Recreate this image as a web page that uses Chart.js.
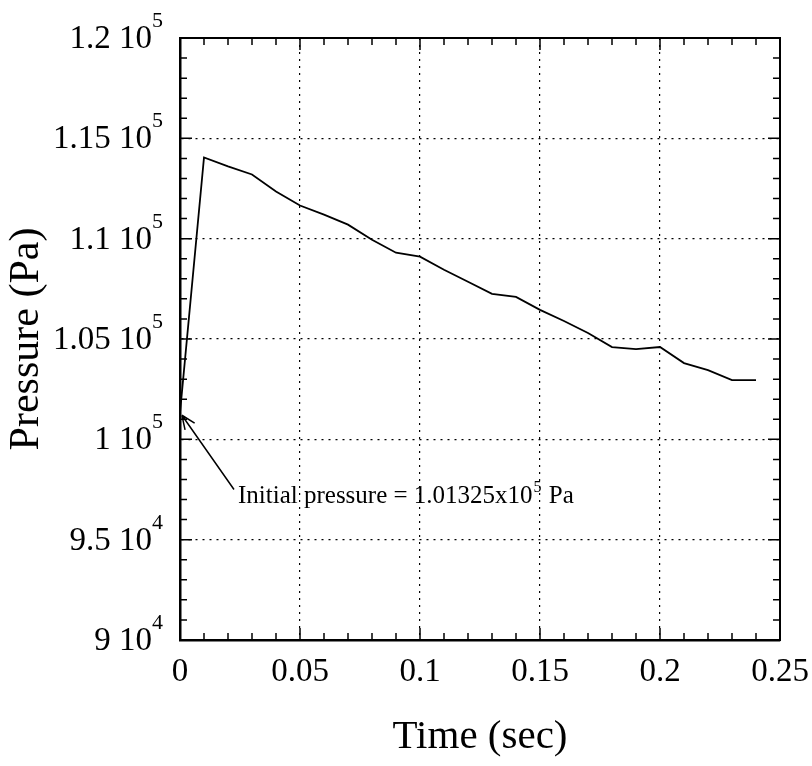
<!DOCTYPE html>
<html>
<head>
<meta charset="utf-8">
<script src="https://cdn.jsdelivr.net/npm/chart.js@4/dist/chart.umd.min.js"></script>
<style>
  html, body { margin: 0; padding: 0; background: #fff; }
  #wrap { width: 812px; height: 766px; }
</style>
</head>
<body>
<div id="wrap"><canvas id="myChart" width="812" height="766"></canvas></div>
<script>
// Time (sec) and pressure (Pa)
const times = [0, 0.01, 0.02, 0.03, 0.04, 0.05, 0.06, 0.07, 0.08, 0.09, 0.10, 0.11, 0.12,
               0.13, 0.14, 0.15, 0.16, 0.17, 0.18, 0.19, 0.20, 0.21, 0.22, 0.23, 0.24];
const pressures = [101325, 114050, 113600, 113200, 112350, 111650, 111200, 110700, 109950,
                   109300, 109100, 108450, 107850, 107250, 107100, 106450, 105900, 105300,
                   104600, 104500, 104600, 103800, 103450, 102950, 102950];

// axis tick values and labels
const xTicks = [0, 0.05, 0.1, 0.15, 0.2, 0.25];
const xTickLabels = ['0', '0.05', '0.1', '0.15', '0.2', '0.25'];
const yTicks = [90000, 95000, 100000, 105000, 110000, 115000, 120000];
const yTickBase = ['9 10', '9.5 10', '1 10', '1.05 10', '1.1 10', '1.15 10', '1.2 10'];
const yTickExp = ['4', '4', '5', '5', '5', '5', '5'];

const serif = "'Liberation Serif', 'DejaVu Serif', serif";

// y tick labels written as mantissa + power of ten with a raised exponent
const yLabels = {
    id: 'yLabels',
    afterDraw(chart) {
        const { ctx, scales: { y } } = chart;
        ctx.save();
        ctx.fillStyle = '#000';
        ctx.textAlign = 'right';
        ctx.textBaseline = 'alphabetic';
        yTicks.forEach((v, i) => {
            const py = y.getPixelForValue(v);
            const right = 163;
            ctx.font = '22px ' + serif;
            const ew = ctx.measureText(yTickExp[i]).width;
            ctx.fillText(yTickExp[i], right, py - 11);
            ctx.font = '33px ' + serif;
            ctx.fillText(yTickBase[i], right - ew, py + 10);
        });
        ctx.restore();
    }
};

// inward tick marks on all four sides (minor + major), from the scales
const tickMarks = {
    id: 'tickMarks',
    afterDatasetsDraw(chart) {
        const { ctx, chartArea: a, scales: { x, y } } = chart;
        ctx.save();
        ctx.strokeStyle = '#000';
        ctx.lineWidth = 1.5;
        ctx.beginPath();
        for (let i = 0; i <= 25; i++) {
            const px = x.getPixelForValue(i / 100);
            const len = i % 5 === 0 ? 12 : 7;
            ctx.moveTo(px, a.bottom); ctx.lineTo(px, a.bottom - len);
            ctx.moveTo(px, a.top); ctx.lineTo(px, a.top + len);
        }
        for (let i = 0; i <= 30; i++) {
            const py = y.getPixelForValue(90000 + i * 1000);
            const len = i % 5 === 0 ? 12 : 7;
            ctx.moveTo(a.left, py); ctx.lineTo(a.left + len, py);
            ctx.moveTo(a.right, py); ctx.lineTo(a.right - len, py);
        }
        ctx.stroke();
        ctx.restore();
    }
};

// the "Initial pressure" note with its arrow
const initialNote = {
    id: 'initialNote',
    afterDatasetsDraw(chart) {
        const { ctx, scales: { x, y } } = chart;
        const tipX = x.getPixelForValue(0.0008), tipY = y.getPixelForValue(101200);
        const tailX = x.getPixelForValue(0.0225), tailY = y.getPixelForValue(97500);
        ctx.save();
        ctx.strokeStyle = '#000';
        ctx.lineWidth = 1.5;
        ctx.beginPath();
        ctx.moveTo(tailX, tailY);
        ctx.lineTo(tipX, tipY);
        const ang = Math.atan2(tipY - tailY, tipX - tailX);
        const h = 15;
        ctx.moveTo(tipX, tipY);
        ctx.lineTo(tipX - h * Math.cos(ang - 0.4), tipY - h * Math.sin(ang - 0.4));
        ctx.moveTo(tipX, tipY);
        ctx.lineTo(tipX - h * Math.cos(ang + 0.4), tipY - h * Math.sin(ang + 0.4));
        ctx.stroke();

        ctx.fillStyle = '#000';
        ctx.textBaseline = 'alphabetic';
        ctx.font = '25px ' + serif;
        let tx = tailX + 4;
        const ty = tailY + 13;
        const part1 = 'Initial pressure = 1.01325x10';
        ctx.fillText(part1, tx, ty);
        tx += ctx.measureText(part1).width;
        ctx.font = '16px ' + serif;
        ctx.fillText('5', tx + 1, ty - 11);
        tx += ctx.measureText('5').width + 2;
        ctx.font = '25px ' + serif;
        ctx.fillText(' Pa', tx, ty);
        ctx.restore();
    }
};

const ctx = document.getElementById('myChart').getContext('2d');

new Chart(ctx, {
    type: 'line',
    data: {
        datasets: [{
            label: 'Pressure',
            data: times.map((t, i) => ({ x: t, y: pressures[i] })),
            borderColor: '#000',
            borderWidth: 1.8,
            pointRadius: 0,
            tension: 0,
            fill: false
        }]
    },
    options: {
        responsive: false,
        animation: false,
        layout: { padding: 0 },
        plugins: {
            legend: { display: false },
            tooltip: { enabled: false }
        },
        scales: {
            x: {
                type: 'linear',
                position: 'bottom',
                min: 0,
                max: 0.25,
                afterBuildTicks: s => { s.ticks = xTicks.map(v => ({ value: v })); },
                afterFit: s => { s.height = 126; s.paddingLeft = 0; s.paddingRight = 0; },
                ticks: {
                    callback: (v) => xTickLabels[xTicks.indexOf(+v.toFixed(2))],
                    color: '#000',
                    font: { family: serif, size: 33 },
                    padding: 13,
                    maxRotation: 0
                },
                grid: { color: '#000', lineWidth: 1.2, drawTicks: false },
                border: { color: '#000', width: 2.5, dash: [2, 5] },
                title: {
                    display: true,
                    text: 'Time (sec)',
                    color: '#000',
                    font: { family: serif, size: 41 },
                    padding: { top: 10 }
                }
            },
            x2: {
                type: 'linear',
                position: 'top',
                min: 0,
                max: 0.25,
                afterFit: s => { s.height = 38; },
                ticks: { display: false },
                grid: { drawOnChartArea: false, drawTicks: false },
                border: { color: '#000', width: 2 }
            },
            y: {
                type: 'linear',
                position: 'left',
                min: 90000,
                max: 120000,
                afterBuildTicks: s => { s.ticks = yTicks.map(v => ({ value: v })); },
                afterFit: s => { s.width = 180; s.paddingTop = 0; s.paddingBottom = 0; },
                ticks: { display: false },
                grid: { color: '#000', lineWidth: 1.2, drawTicks: false },
                border: { color: '#000', width: 2.5, dash: [2, 5] },
                title: {
                    display: true,
                    text: 'Pressure (Pa)',
                    color: '#000',
                    font: { family: serif, size: 42 },
                    padding: { top: 2, bottom: 0 }
                }
            },
            y2: {
                type: 'linear',
                position: 'right',
                min: 90000,
                max: 120000,
                afterFit: s => { s.width = 32; },
                ticks: { display: false },
                grid: { drawOnChartArea: false, drawTicks: false },
                border: { color: '#000', width: 2 }
            }
        }
    },
    plugins: [tickMarks, initialNote, yLabels]
});
</script>
</body>
</html>
